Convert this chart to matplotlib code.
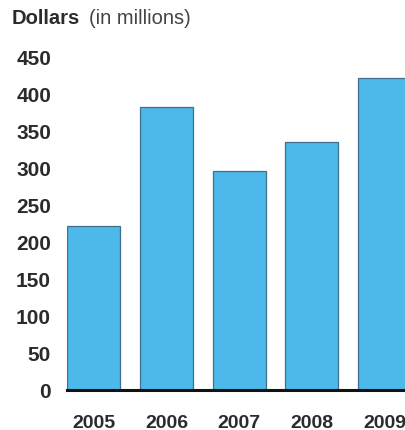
import matplotlib
matplotlib.use("Agg")
import matplotlib.pyplot as plt

years = ["2005", "2006", "2007", "2008", "2009"]
values = [222, 382, 296, 335, 421]
yticks = [0, 50, 100, 150, 200, 250, 300, 350, 400, 450]

plt.rcParams['font.family'] = ['Liberation Sans', 'DejaVu Sans']

W, H = 405, 431
fig = plt.figure(figsize=(W / 100, H / 100), dpi=100)
fig.patch.set_facecolor('white')

left, right = 67, 405
bottom, top = 391, 54
ax = fig.add_axes([left / W, (H - bottom) / H, (right - left) / W, (bottom - top) / H])

x = list(range(len(years)))
ax.bar(x, values, width=0.73, color='#4DB9EA', edgecolor='#3f6f8a', linewidth=0.9, zorder=2)

ax.set_xlim(-0.37, 4.28)
ax.set_ylim(0, 455)
ax.set_yticks(yticks)
ax.set_yticklabels([str(v) for v in yticks], fontsize=15, fontweight='bold', color='#2b2b2b')
ax.set_xticks(x)
ax.set_xticklabels(years, fontsize=14, fontweight='bold', color='#2b2b2b')
ax.tick_params(axis='y', length=0, pad=11.5)
ax.tick_params(axis='x', length=0, pad=17)

for s in ['top', 'right', 'left']:
    ax.spines[s].set_visible(False)
ax.spines['bottom'].set_linewidth(2.2)
ax.spines['bottom'].set_color('#111111')
ax.spines['bottom'].set_zorder(3)

fig.text(12 / W, 1 - 18 / H, "Dollars", fontsize=14.5, fontweight='bold', color='#2b2b2b', va='center', ha='left')
fig.text(89 / W, 1 - 18 / H, "(in millions)", fontsize=14.5, color='#444444', va='center', ha='left')

fig.savefig("out.png", dpi=100, facecolor='white')
